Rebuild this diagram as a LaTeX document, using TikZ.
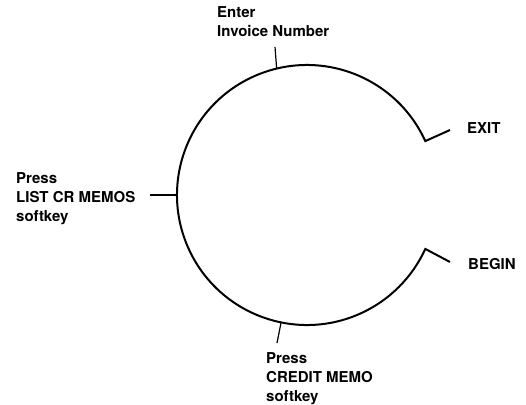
\documentclass[tikz,border=0pt]{standalone}
\usepackage{fontspec}
\setmainfont{TeX Gyre Heros}
\usetikzlibrary{calc}
\begin{document}
\begin{tikzpicture}[
    x=1pt, y=-1pt,
    lbl/.style={anchor=base west, inner sep=0pt, align=left, font=\fontsize{15}{19}\selectfont\bfseries},
    loopline/.style={line width=2pt, line join=miter},
    tick/.style={line width=1.2pt},
  ]
    \useasboundingbox (0,0) rectangle (526,404);
    % --- loop (y axis points down, so angles run clockwise) ---
    \coordinate (ctr) at (307,195);
    \coordinate (exitend) at ($(ctr)+(-24.5:130)$);
    \coordinate (beginend) at ($(ctr)+(24.5:130)$);
    \coordinate (exitstub) at (450,130);
    \coordinate (beginstub) at (450,262);
    \draw[loopline] (exitstub) -- (exitend) arc[start angle=-24.5, end angle=-335.5, radius=130] -- (beginstub);

    % --- labels (base = baseline of the last line) ---
    \node[lbl] (enter) at (217,37) {Enter\\Invoice Number};
    \node[lbl] (listcr) at (16,221) {Press\\LIST CR MEMOS\\softkey};
    \node[lbl] (credit) at (266,401) {Press\\CREDIT MEMO\\softkey};
    \node[lbl] (exit) at (467,133) {EXIT};
    \node[lbl] (begin) at (468,269) {BEGIN};

    % --- ticks ---
    \coordinate (toppt) at ($(ctr)+(-103.5:130)$);
    \coordinate (topend) at (275,47);
    \coordinate (leftpt) at ($(ctr)+(180:130)$);
    \coordinate (leftend) at (150,195);
    \coordinate (botpt) at ($(ctr)+(101.5:130)$);
    \coordinate (botend) at (277,343);
    \draw[tick] (topend) -- (toppt);
    \draw[tick] (leftend) -- (leftpt);
    \draw[tick] (botend) -- (botpt);
  \end{tikzpicture}
\end{document}
